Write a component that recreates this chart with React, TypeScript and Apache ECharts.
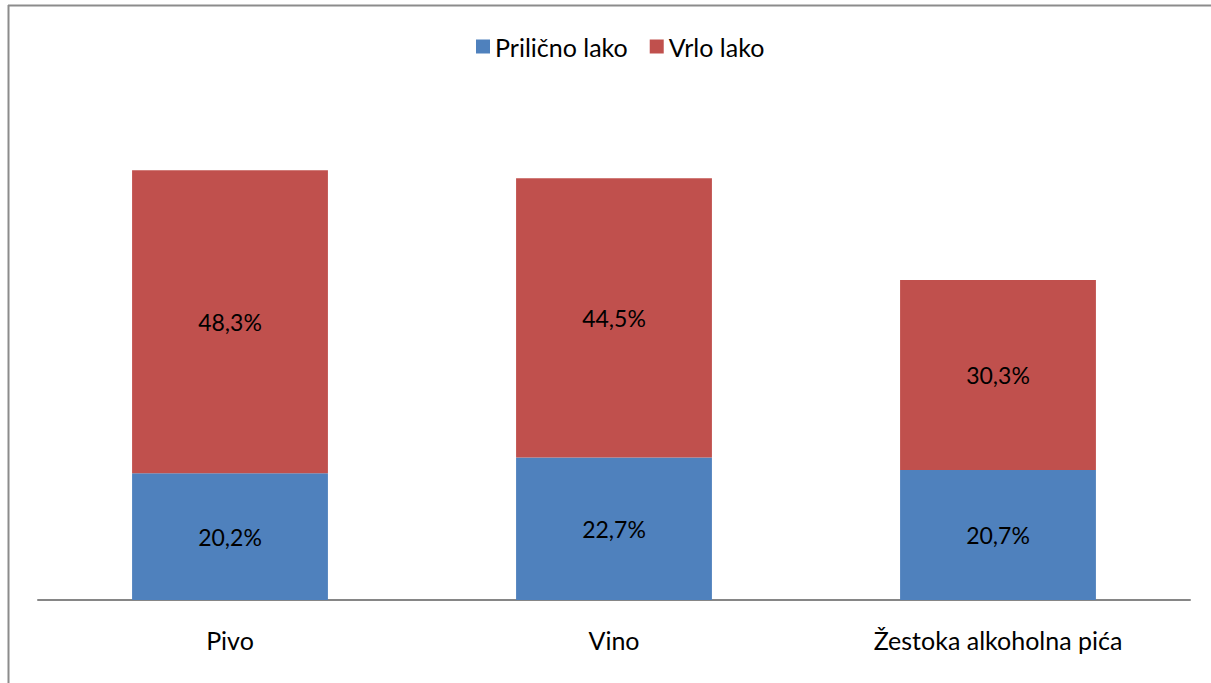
import React, { useEffect, useRef } from "react";
import * as echarts from "echarts";

const categories = ["Pivo", "Vino", "Žestoka alkoholna pića"];
const seriesNames = ["Prilično lako", "Vrlo lako"];
const prilicnoLako = [20.2, 22.7, 20.7];
const vrloLako = [48.3, 44.5, 30.3];
const colors = ["#4F81BD", "#C0504D"];

const FONT = "Lato, 'Open Sans', sans-serif";

export default function App() {
  const ref = useRef<HTMLDivElement>(null);
  useEffect(() => {
    if (!ref.current) return;
    const chart = echarts.init(ref.current, undefined, { renderer: "svg" });
    const fmt = (p: any) => p.value.toFixed(1).replace(".", ",") + "%";
    chart.setOption({
      animation: false,
      backgroundColor: "#ffffff",
      textStyle: { fontFamily: FONT },
      legend: {
        left: 471,
        top: 29,
        itemWidth: 14,
        itemHeight: 14,
        itemGap: 22,
        icon: "rect",
        textStyle: { fontFamily: FONT, fontSize: 25, color: "#000" },
        data: seriesNames,
      },
      grid: { left: 38, right: 21, top: 98, bottom: 83 },
      xAxis: {
        type: "category",
        data: categories,
        axisLine: { lineStyle: { color: "#868686", width: 2 } },
        axisTick: { show: false },
        axisLabel: { fontFamily: FONT, fontSize: 25, color: "#000", margin: 27 },
      },
      yAxis: {
        type: "value",
        min: 0,
        max: 80,
        show: false,
        splitLine: { show: false },
      },
      graphic: [
        { type: "line", shape: { x1: 8, y1: 5.5, x2: 1211, y2: 5.5 }, style: { stroke: "#8c8c8c", lineWidth: 2 } },
        { type: "line", shape: { x1: 8.5, y1: 5, x2: 8.5, y2: 683 }, style: { stroke: "#8c8c8c", lineWidth: 2 } },
      ],
      series: [
        {
          name: seriesNames[0],
          type: "bar",
          stack: "total",
          barWidth: "51%",
          data: prilicnoLako,
          itemStyle: { color: colors[0] },
          label: { show: true, position: "inside", formatter: fmt, fontFamily: FONT, fontSize: 23, color: "#000" },
        },
        {
          name: seriesNames[1],
          type: "bar",
          stack: "total",
          barWidth: "51%",
          data: vrloLako,
          itemStyle: { color: colors[1] },
          label: { show: true, position: "inside", formatter: fmt, fontFamily: FONT, fontSize: 23, color: "#000" },
        },
      ],
    });
    return () => chart.dispose();
  }, []);
  return (
    <div
      ref={ref}
      style={{ position: "fixed", left: 0, top: 0, width: 1211, height: 683 }}
    />
  );
}
